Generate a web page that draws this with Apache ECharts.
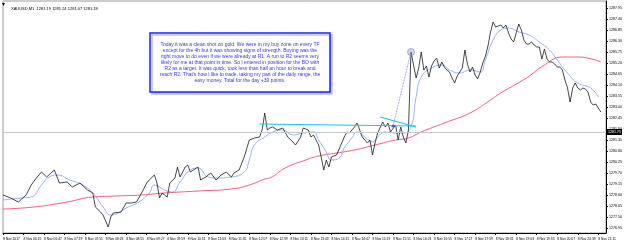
<!DOCTYPE html>
<html>
<head>
<meta charset="utf-8">
<script src="https://cdn.jsdelivr.net/npm/echarts@6.0.0/dist/echarts.min.js"></script>
<style>
html, body { margin: 0; padding: 0; background: #fff; }
#main { width: 625px; height: 246px; }
</style>
</head>
<body>
<div id="main"></div>
<script>
// XAUUSD M1, 8 Nov, one category every 4 minutes starting 05:43
const startMinute = 5 * 60 + 43;
const stepMinutes = 4;
const categoryCount = 236;

const yTicks = [1276.95, 1277.50, 1278.05, 1278.60, 1279.15, 1279.70, 1280.25, 1280.80,
  1281.35, 1281.90, 1282.45, 1283.00, 1283.55, 1284.10, 1284.65, 1285.20, 1285.75,
  1286.30, 1286.85, 1287.40, 1287.95];

// [category index, price]
const price = [
  [0,1278.60],[3,1278.45],[6,1278.25],[9,1278.60],[11,1279.10],[13,1279.45],[15,1279.75],[17,1279.50],
  [20,1279.85],[22,1279.20],[25,1279.25],[27,1279.00],[30,1279.20],[33,1278.85],[35,1278.70],[36,1278.00],
  [38,1277.75],[39,1277.60],[41,1277.00],[42,1277.50],[43,1277.70],[46,1277.75],[48,1278.20],[50,1278.20],
  [52,1278.25],[54,1278.70],[56,1279.20],[57,1279.35],[59,1279.60],[60,1279.20],[61,1278.45],[62,1278.70],
  [64,1278.50],[65,1279.20],[67,1279.45],[68,1280.00],[69,1279.50],[71,1280.00],[72,1280.10],[73,1279.75],
  [76,1280.00],[77,1279.35],[79,1279.50],[81,1279.70],[83,1279.35],[85,1279.60],[87,1279.75],[89,1279.50],
  [90,1279.70],[92,1279.85],[94,1280.50],[96,1281.35],[98,1281.45],[100,1281.50],[101,1281.85],[102,1282.70],
  [103,1281.85],[104,1281.95],[105,1282.00],[107,1281.85],[109,1281.95],[111,1281.50],[113,1281.25],[114,1281.10],
  [116,1281.50],[117,1281.95],[119,1281.85],[120,1281.50],[121,1281.60],[123,1281.10],[124,1280.50],[125,1279.85],
  [126,1280.35],[127,1280.00],[128,1280.50],[130,1280.60],[132,1281.20],[133,1281.50],[134,1281.75],[135,1281.70],
  [137,1282.00],[138,1282.20],[139,1281.85],[140,1281.50],[142,1281.20],[143,1281.35],[144,1280.60],[145,1281.20],
  [146,1281.70],[148,1282.25],[149,1282.00],[150,1282.20],[151,1281.75],[153,1282.10],[154,1281.35],[155,1282.00],
  [156,1281.50],[157,1281.20],[158,1281.85],[159,1285.75],
  [160,1285.10],[161,1284.45],[162,1284.95],[163,1285.75],[164,1284.85],[165,1285.05],[166,1284.50],[167,1285.05],
  [168,1285.30],[169,1285.45],[170,1284.95],[171,1285.25],[172,1285.00],[173,1284.85],[174,1284.75],[175,1284.45],
  [176,1284.20],[177,1284.55],[178,1284.75],[179,1284.95],[180,1285.85],[181,1285.15],[182,1284.75],[183,1285.00],
  [184,1284.60],[185,1284.40],[186,1284.75],[187,1285.20],[188,1285.55],[189,1286.05],[190,1286.75],[191,1287.25],
  [192,1287.00],[193,1287.05],[194,1287.10],[195,1286.95],[196,1287.10],[197,1286.70],[198,1286.40],[199,1286.25],
  [200,1286.70],[201,1287.15],[202,1286.85],[203,1286.35],[204,1286.15],[205,1286.15],[206,1286.25],[207,1286.10],
  [208,1286.00],[209,1286.00],[210,1285.40],[211,1285.90],[212,1285.40],[213,1285.25],[214,1285.25],[215,1285.15],
  [216,1285.00],[217,1285.00],[218,1284.85],[219,1284.35],[220,1283.95],[221,1283.25],[222,1283.95],[223,1284.20],
  [224,1283.95],[225,1283.85],[226,1283.95],[227,1283.90],[228,1283.75],[229,1283.25],[230,1283.10],[231,1283.15],
  [232,1282.95],[233,1282.75]
];

const fastMA = [
  [0,1278.35],[7,1278.45],[11,1278.50],[15,1279.10],[18,1279.50],[21,1279.60],[26,1279.35],[31,1279.10],
  [35,1278.70],[39,1278.00],[42,1277.60],[45,1277.70],[48,1277.95],[53,1278.25],[57,1278.70],[59,1279.10],
  [63,1278.85],[66,1278.75],[69,1279.25],[73,1279.85],[76,1279.95],[80,1279.50],[84,1279.45],[89,1279.50],
  [94,1279.75],[96,1280.35],[98,1281.10],[102,1281.50],[105,1281.75],[109,1281.85],[113,1281.60],[117,1281.70],
  [121,1281.75],[123,1281.35],[126,1280.75],[128,1280.35],[131,1280.45],[133,1280.95],[136,1281.45],[138,1281.75],
  [141,1281.50],[144,1281.25],[146,1281.50],[149,1281.75],[153,1281.70],[156,1281.70],[159,1282.00],[161,1283.50],
  [163,1284.50],[167,1284.95],[171,1285.10],[174,1284.85],[178,1284.70],[182,1284.85],[186,1284.75],[188,1285.35],
  [191,1286.35],[194,1286.85],[197,1286.95],[201,1286.75],[205,1286.60],[209,1286.25],[213,1285.85],[216,1285.35],
  [220,1284.70],[224,1284.20],[229,1283.95],[232,1283.50]
];

const slowMA = [
  [0,1277.90],[12,1278.00],[25,1278.25],[35,1278.50],[44,1278.55],[54,1278.60],[63,1278.70],[76,1278.80],
  [89,1278.90],[96,1279.10],[102,1279.40],[104,1279.45],[110,1279.95],[118,1280.35],[123,1280.55],[130,1280.70],
  [137,1280.85],[145,1281.10],[153,1281.35],[158,1281.45],[163,1281.75],[172,1282.20],[182,1282.70],[190,1283.35],
  [194,1283.70],[204,1284.45],[211,1285.10],[218,1285.50],[224,1285.50],[233,1285.25]
];

const resistance = [[100,1282.15],[161,1282.05]];
const trendLine = [[147,1282.50],[161,1282.00]];
const breakout = [[152,1282.05],[159,1285.75]];
const bidPrice = 1281.75;

const noteLines = [
  'Today it was a clean shot on gold. We were in my buy zone on every TF',
  'except for the 4h but it was showing signs of strength. Buying was the',
  'right move to do even if we were already at R1. A run to R2 seems very',
  'likely for me at that point in time. So i entered in position for the BO with',
  'R2 as a target. It was quick, took less than half an hour to break and',
  "reach R2. That's how i like to trade, taking my part of the daily range, the",
  'easy money. Total for the day +39 points.'
];

const categories = [];
for (let i = 0; i < categoryCount; i++) {
  const m = startMinute + i * stepMinutes;
  const hh = String(Math.floor(m / 60) % 24).padStart(2, '0');
  const mm = String(m % 60).padStart(2, '0');
  categories.push(i === 0 ? '8 Nov 2017' : '8 Nov ' + hh + ':' + mm);
}

const font = '"Liberation Sans", Arial, sans-serif';
const chart = echarts.init(document.getElementById('main'));

chart.setOption({
  animation: false,
  backgroundColor: '#fff',
  title: {
    text: 'XAUUSD,M1  1281.19 1281.24 1281.07 1281.18',
    left: 6, top: 2,
    textStyle: { fontSize: 4, fontWeight: 'normal', color: '#000', fontFamily: font }
  },
  grid: { left: 2, right: 10, top: 1, bottom: 13, show: true, borderColor: '#9a9a9a', borderWidth: 1 },
  xAxis: {
    type: 'category',
    data: categories,
    boundaryGap: false,
    axisLine: { lineStyle: { color: '#000', width: 1 } },
    axisTick: { interval: 7, length: 2, lineStyle: { color: '#000' } },
    axisLabel: { interval: 7, fontSize: 3.3, color: '#000', align: 'left', margin: 5, fontFamily: font },
    splitLine: { show: false }
  },
  yAxis: {
    type: 'value',
    position: 'right',
    min: 1276.70,
    max: 1288.30,
    axisLine: { show: true, lineStyle: { color: '#000', width: 1 } },
    axisTick: { show: true, length: 2, customValues: yTicks, lineStyle: { color: '#000' } },
    axisLabel: {
      customValues: yTicks, fontSize: 3.6, color: '#000', margin: 3, fontFamily: font,
      formatter: v => v.toFixed(2)
    },
    splitLine: { show: false }
  },
  graphic: [
    { type: 'polygon', shape: { points: [[2, 3], [5, 3], [3.5, 6]] }, style: { fill: '#000' } },
    {
      type: 'rect', z: 100,
      shape: { x: 150, y: 33, width: 180, height: 59 },
      style: { fill: '#fff', stroke: '#1f1fff', lineWidth: 1.5, shadowColor: '#b9c1ee', shadowOffsetX: 2, shadowOffsetY: 2, shadowBlur: 0 }
    }
  ].concat(noteLines.map((t, i) => ({
    type: 'text', z: 101, x: 240, y: 45 + i * 5.9,
    style: { text: t, fill: '#3535ff', font: '5px ' + font, textAlign: 'center', textVerticalAlign: 'middle' }
  }))),
  series: [
    {
      name: 'slow', type: 'line', data: slowMA, symbol: 'none', smooth: true,
      lineStyle: { color: '#f0607e', width: 1 }, z: 2
    },
    {
      name: 'fast', type: 'line', data: fastMA, symbol: 'none', smooth: true,
      lineStyle: { color: '#7f9ff5', width: 0.8 }, z: 3
    },
    {
      name: 'price', type: 'line', data: price, symbol: 'none',
      lineStyle: { color: '#1a1a1a', width: 0.8 }, z: 4,
      markLine: {
        silent: true, symbol: 'none',
        lineStyle: { color: '#c8c8c8', width: 1, type: 'solid' },
        label: {
          position: 'end', formatter: bidPrice.toFixed(2), fontSize: 3.6, color: '#fff',
          backgroundColor: '#000', padding: [1, 1], distance: 1, fontFamily: font
        },
        data: [{ yAxis: bidPrice }]
      }
    },
    {
      name: 'resistance', type: 'line', data: resistance, symbol: 'none',
      lineStyle: { color: '#1ec3f2', width: 1.2 }, z: 5
    },
    {
      name: 'trend', type: 'line', data: trendLine, symbol: 'none',
      lineStyle: { color: '#1ec3f2', width: 1.2 }, z: 5
    },
    {
      name: 'breakout', type: 'line', data: breakout, symbol: 'none',
      lineStyle: { color: '#6a6ae6', width: 0.8, type: 'dotted' }, z: 5
    },
    {
      name: 'marks', type: 'scatter', z: 6,
      data: [
        { value: breakout[0], symbolSize: 3, itemStyle: { color: '#3a3acc' } },
        { value: breakout[1], symbolSize: 7, itemStyle: { color: 'rgba(150,160,200,0.55)', borderColor: '#8890b8', borderWidth: 0.8 } }
      ]
    }
  ]
});
</script>
</body>
</html>
